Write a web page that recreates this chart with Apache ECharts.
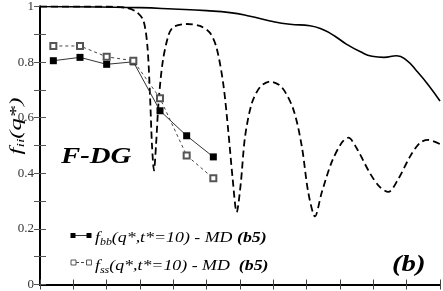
<!DOCTYPE html>
<html><head><meta charset="utf-8">
<script src="https://cdn.jsdelivr.net/npm/echarts@6/dist/echarts.min.js"></script>
<style>html,body{margin:0;padding:0;background:#fff}#c{width:443px;height:291px}</style>
</head><body><div id="c"></div>
<script>
// MD points (q* position in axis units)
const mdX = [0.4, 1.2, 2.0, 2.8, 3.6, 4.4, 5.2];
const fbb = [0.805, 0.817, 0.792, 0.801, 0.625, 0.535, 0.459];
const fss = [0.858, 0.858, 0.819, 0.805, 0.670, 0.464, 0.382];
// solid curve
const solidX = [0, 1.8, 3, 4, 5, 5.7, 6.3, 6.9, 7.5, 8.1, 8.5, 8.85, 9.2, 9.6, 9.96, 10.32, 10.7, 11.0, 11.3, 11.65, 12];
const solidY = [1.0, 0.998, 0.996, 0.991, 0.985, 0.978, 0.965, 0.948, 0.936, 0.931, 0.916, 0.893, 0.864, 0.838, 0.821, 0.817, 0.823, 0.806, 0.768, 0.718, 0.660];
// dashed curve
const dashX = [0, 1, 2, 2.6, 2.9, 3.1, 3.22, 3.3, 3.36, 3.42, 3.48, 3.56, 3.68, 3.85, 4.0, 4.4, 4.8, 5.1, 5.3, 5.5, 5.65, 5.78, 5.9, 6.02, 6.15, 6.35, 6.6, 6.9, 7.25, 7.6, 7.85, 8.05, 8.25, 8.45, 8.75, 9.05, 9.25, 9.5, 9.9, 10.2, 10.45, 10.75, 11.1, 11.4, 11.65, 12];
const dashY = [1.0, 1.0, 1.0, 0.995, 0.98, 0.95, 0.86, 0.68, 0.5, 0.41, 0.5, 0.66, 0.80, 0.895, 0.926, 0.937, 0.93, 0.905, 0.85, 0.72, 0.55, 0.38, 0.26, 0.36, 0.53, 0.65, 0.71, 0.73, 0.71, 0.63, 0.5, 0.33, 0.245, 0.33, 0.44, 0.51, 0.528, 0.49, 0.40, 0.35, 0.333, 0.38, 0.46, 0.51, 0.52, 0.505];

const zip = (a, b) => a.map((v, i) => [v, b[i]]);
const serif = '"Liberation Serif", "DejaVu Serif", serif';

const chart = echarts.init(document.getElementById('c'), null, {renderer: 'canvas'});
const xCommon = {type: 'value', min: 0, max: 12, interval: 1,
  axisLabel: {show: false}, splitLine: {show: false},
  axisTick: {inside: true, length: 5, lineStyle: {color: '#444', width: 1}}};
const yCommon = {type: 'value', min: 0, max: 1, interval: 0.1, splitLine: {show: false},
  axisTick: {inside: true, length: 6, lineStyle: {color: '#555', width: 1}}};
const legRich = {f: {font: 'italic 15px ' + serif, fill: '#000'},
  s: {font: 'italic 10px ' + serif, fill: '#000', padding: [8, 0, 0, 0]},
  b: {font: 'italic bold 15px ' + serif, fill: '#000'}};
chart.setOption({
  animation: false,
  backgroundColor: '#fff',
  grid: {left: 40, right: 3, top: 4, bottom: 5, containLabel: false},
  xAxis: [
    Object.assign({}, xCommon, {position: 'bottom', axisLine: {lineStyle: {color: '#000', width: 2}}}),
    Object.assign({}, xCommon, {position: 'top', axisLine: {lineStyle: {color: '#000', width: 2}}})
  ],
  yAxis: [
    Object.assign({}, yCommon, {position: 'left',
      axisLine: {show: true, lineStyle: {color: '#000', width: 2}},
      axisLabel: {margin: 6, fontFamily: serif, fontSize: 13, color: '#333',
        formatter: v => { const k = Math.round(v * 10); if (k % 2) return ''; return k === 10 ? '1' : k === 0 ? '0' : (k / 10).toFixed(1); }}}),
    Object.assign({}, yCommon, {position: 'right',
      axisLine: {show: true, lineStyle: {color: '#000', width: 2}},
      axisLabel: {show: false}})
  ],
  series: [
    {type: 'line', data: zip(solidX, solidY), smooth: 0.5, showSymbol: false,
      lineStyle: {color: '#000', width: 1.6}, z: 3},
    {type: 'line', data: zip(dashX, dashY), smooth: 0.3, showSymbol: false,
      lineStyle: {color: '#000', width: 1.8, type: [7, 4]}, z: 3},
    {type: 'line', data: zip(mdX, fbb), symbol: 'rect', symbolSize: 7,
      itemStyle: {color: '#000'}, lineStyle: {color: '#333', width: 1}, z: 4},
    {type: 'line', data: zip(mdX, fss), symbol: 'emptyRect', symbolSize: 6,
      itemStyle: {color: '#555', borderWidth: 1}, lineStyle: {color: '#444', width: 1, type: [3, 3]}, z: 4}
  ],
  graphic: [
    {type: 'text', x: 61, y: 157, scaleX: 1.2, style: {text: 'F-DG', font: 'italic bold 24px ' + serif, fill: '#000', verticalAlign: 'middle'}},
    {type: 'text', x: 392, y: 265, scaleX: 1.25, style: {text: '(b)', font: 'italic bold 23px ' + serif, fill: '#000', verticalAlign: 'middle'}},
    {type: 'text', x: 17, y: 126, rotation: Math.PI / 2, scaleX: 1.45, style: {
      text: '{f|f}{s|ii}{f|(q*)}', align: 'center', verticalAlign: 'middle',
      rich: {f: {font: 'italic 17px ' + serif, fill: '#000'}, s: {font: 'italic 11px ' + serif, fill: '#000', padding: [8, 0, 0, 0]}}}},
    // legend
    {type: 'line', shape: {x1: 73, y1: 235.5, x2: 89, y2: 235.5}, style: {stroke: '#333', lineWidth: 1}},
    {type: 'rect', shape: {x: 70.5, y: 233, width: 5, height: 5}, style: {fill: '#000'}},
    {type: 'rect', shape: {x: 86.5, y: 233, width: 5, height: 5}, style: {fill: '#000'}},
    {type: 'line', shape: {x1: 76, y1: 262.5, x2: 86, y2: 262.5}, style: {stroke: '#444', lineWidth: 1, lineDash: [3, 2]}},
    {type: 'rect', shape: {x: 71, y: 260, width: 5, height: 5}, style: {fill: '#fff', stroke: '#555', lineWidth: 1}},
    {type: 'rect', shape: {x: 86.5, y: 260, width: 5, height: 5}, style: {fill: '#fff', stroke: '#555', lineWidth: 1}},
    {type: 'text', x: 95, y: 229, scaleX: 1.19, style: {
      text: '{f|f}{s|bb}{f|(q*,t*=10) - MD }{b|(b5)}', verticalAlign: 'top', rich: legRich}},
    {type: 'text', x: 95, y: 257, scaleX: 1.19, style: {
      text: '{f|f}{s|ss}{f|(q*,t*=10) - MD  }{b|(b5)}', verticalAlign: 'top', rich: legRich}}
  ]
});
</script></body></html>
